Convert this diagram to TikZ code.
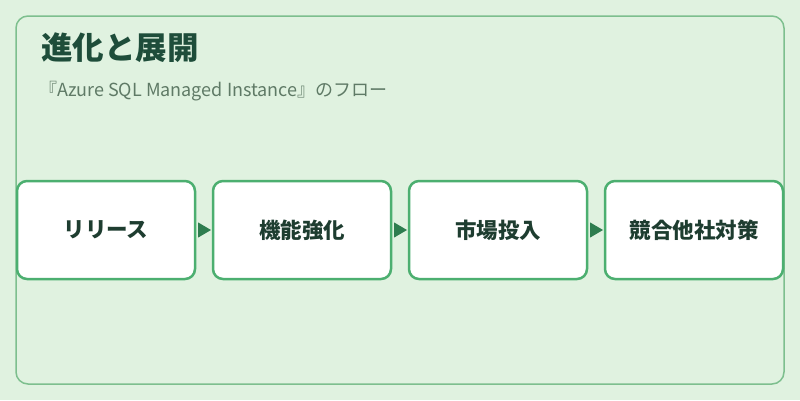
\documentclass[tikz,border=0pt]{standalone}
\usepackage{fontspec}
\setmainfont{Noto Sans CJK JP}
\usetikzlibrary{arrows.meta}
\definecolor{bgGreen}{HTML}{E0F2E0}
\definecolor{frameGreen}{HTML}{7DBF8E}
\definecolor{boxGreen}{HTML}{4CAF70}
\definecolor{tipGreen}{HTML}{2E7D4F}
\definecolor{titleGreen}{HTML}{1E4D3A}
\definecolor{subGrey}{HTML}{5F7A66}
\definecolor{labelDark}{HTML}{1E3D30}
\tikzset{
  stage/.style={draw=boxGreen, fill=white, line width=2.5pt, rounded corners=10pt,
    minimum width=178pt, minimum height=98pt, inner sep=0pt, outer sep=0pt,
    font=\fontsize{21.5}{24}\selectfont\bfseries, text=labelDark},
  flow/.style={tipGreen, line width=1pt, shorten <=3pt, shorten >=2pt,
    -{Triangle[length=13pt,width=15pt]}}
}
\begin{document}
\begin{tikzpicture}[x=1pt,y=-1pt]
        %background
        \fill[bgGreen] (0,0) rectangle (800,400);
        \useasboundingbox (0,0) rectangle (800,400);
        \draw[frameGreen, line width=1.5pt, rounded corners=12pt] (16,16) rectangle (784,384);
        %heading
        \node[anchor=base west, inner sep=0pt, text=titleGreen, font=\fontsize{31.5}{36}\selectfont\bfseries] (title) at (41,59) {進化と展開};
        \node[anchor=base west, inner sep=0pt, text=subGrey, font=\fontsize{18}{21}\selectfont] (subtitle) at (39,96) {『Azure SQL Managed Instance』のフロー};
        %stages
        \node[stage] (release) at (106,230) {リリース};
        \node[stage] (feature) at (302,230) {機能強化};
        \node[stage] (market) at (498,230) {市場投入};
        \node[stage] (rival) at (694,230) {競合他社対策};
        %arrows
        \draw[flow] (release.east) -- (feature.west);
        \draw[flow] (feature.east) -- (market.west);
        \draw[flow] (market.east) -- (rival.west);
    \end{tikzpicture}
\end{document}
